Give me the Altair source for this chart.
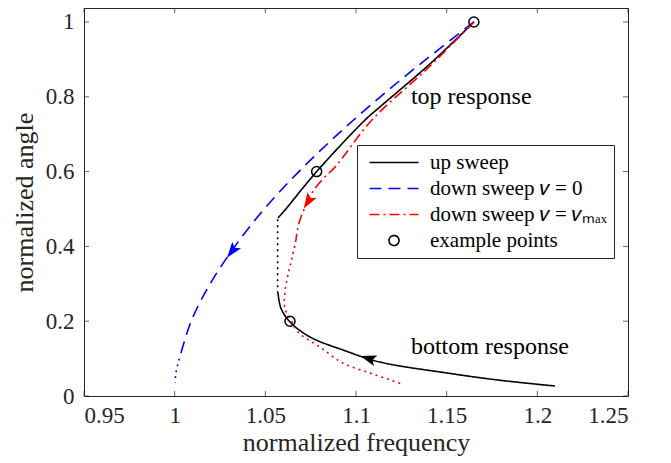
import altair as alt
import pandas as pd

SERIES = ["up sweep", "down sweep 𝑣 = 0", "down sweep 𝑣 = 𝑣ₘₐₓ", "example points"]
COLORS = ["#000000", "#0000ff", "#ff0000", "#000000"]
DASHES = [[1, 0], [12, 7], [10, 4, 2, 4], [1, 0]]
# legend symbols: a 49px line sample, and a circle sitting at the middle of it
LINE_SYM = "M-1,0 L8.8,0"
CIRC_SYM = "M4.9,0 A1,1 0 1,1 2.9,0 A1,1 0 1,1 4.9,0 Z"
CIRC_SHIFT = -19.5
SHAPES = [LINE_SYM, LINE_SYM, LINE_SYM, CIRC_SYM]

x_ticks = [0.95, 1.0, 1.05, 1.1, 1.15, 1.2, 1.25]
y_ticks = [0, 0.2, 0.4, 0.6, 0.8, 1.0]
X_DOMAIN = [0.95, 1.25]
Y_DOMAIN = [0, 1.0374]

# up sweep (black)
up_top_x = [1.0570, 1.0608, 1.0783, 1.1050, 1.1132, 1.1408, 1.1650]
up_top_y = [0.476, 0.497, 0.600, 0.738, 0.773, 0.888, 1.000]
up_jump_x = [1.0568, 1.0568]
up_jump_y = [0.275, 0.476]
up_bot_x = [1.2097, 1.1778, 1.1502, 1.1132, 1.0928, 1.0746, 1.0636, 1.0586, 1.0570]
up_bot_y = [0.0267, 0.043, 0.0615, 0.0909, 0.123, 0.158, 0.198, 0.235, 0.275]

# down sweep v = 0 (blue)
d0_x = [1.1650, 1.1386, 1.1134, 1.0900, 1.0685, 1.0494, 1.0332, 1.0196, 1.0091, 1.0026]
d0_y = [1.000, 0.900, 0.800, 0.700, 0.600, 0.500, 0.400, 0.300, 0.200, 0.100]
d0_tail_x = [1.0026, 1.0008, 1.0002]
d0_tail_y = [0.100, 0.065, 0.035]

# down sweep v = vmax (red)
dm_x = [1.1650, 1.1397, 1.1088, 1.0884, 1.0813, 1.0757, 1.0719, 1.0691, 1.0675, 1.0669]
dm_y = [1.000, 0.877, 0.738, 0.612, 0.578, 0.543, 0.505, 0.471, 0.439, 0.417]
dm_tail_x = [1.0669, 1.0647, 1.0625, 1.0608, 1.0608, 1.0647, 1.0680, 1.0801, 1.0928,
             1.1077, 1.1188, 1.1254]
dm_tail_y = [0.417, 0.369, 0.324, 0.278, 0.235, 0.198, 0.171, 0.131, 0.088,
             0.0615, 0.043, 0.032]

# example points
pts_x = [1.1650, 1.0783, 1.0636]
pts_y = [1.000, 0.600, 0.200]

# arrows (one per sweep)
arr_x = [1.1077, 1.0322, 1.0741]
arr_y = [0.099, 0.391, 0.524]
arr_angle = [288, 217, 212]

# annotations
ann_text = ["top response", "bottom response"]
ann_x = [1.1303, 1.1303]
ann_y = [0.80, 0.131]

rows = []
def add(series, seg, xs, ys):
    for i, (a, b) in enumerate(zip(xs, ys)):
        rows.append({"series": series, "seg": seg, "order": i, "x": a, "y": b})

add(SERIES[0], "top", up_top_x, up_top_y)
add(SERIES[0], "bot", up_bot_x, up_bot_y)
add(SERIES[1], "main", d0_x, d0_y)
add(SERIES[2], "main", dm_x, dm_y)
main_df = pd.DataFrame(rows)

rows = []
add(SERIES[0], "jump", up_jump_x, up_jump_y)
add(SERIES[1], "tail", d0_tail_x, d0_tail_y)
add(SERIES[2], "tail", dm_tail_x, dm_tail_y)
dot_df = pd.DataFrame(rows)

pts_df = pd.DataFrame({"series": SERIES[3], "x": pts_x, "y": pts_y})
ann_df = pd.DataFrame({"text": ann_text, "x": ann_x, "y": ann_y})

AX = "#262626"
FONT = "Liberation Serif"

xs = alt.Scale(domain=X_DOMAIN, nice=False, zero=False)
ys = alt.Scale(domain=Y_DOMAIN, nice=False, zero=False)

legend = alt.Legend(
    orient="none", legendX=273, legendY=137,
    strokeColor=AX, fillColor="white", padding=7,
    labelFont=FONT, labelFontSize=21, labelColor="black", labelLimit=400,
    labelOffset=45, rowPadding=4, symbolStrokeWidth=1.6, symbolSize=100,
    symbolFillColor="transparent",
)

color = alt.Color("series:N", scale=alt.Scale(domain=SERIES, range=COLORS),
                  legend=legend, title=None)

x_enc = alt.X("x:Q", scale=xs, title="normalized frequency",
              axis=alt.Axis(values=x_ticks, format="~g"))
y_enc = alt.Y("y:Q", scale=ys, title="normalized angle",
              axis=alt.Axis(values=y_ticks, format="~g"))

lines = alt.Chart(main_df).mark_line(strokeWidth=1.6, interpolate="catmull-rom").encode(
    x=x_enc, y=y_enc, color=color,
    strokeDash=alt.StrokeDash("series:N", scale=alt.Scale(domain=SERIES, range=DASHES),
                              legend=legend, title=None),
    detail="seg:N", order="order:Q",
)

dots = alt.Chart(dot_df).mark_line(strokeWidth=1.6, strokeDash=[2, 4],
                                   interpolate="catmull-rom").encode(
    x="x:Q", y="y:Q", color=color, detail="seg:N", order="order:Q",
)

points = alt.Chart(pts_df).mark_point(filled=False, size=100, strokeWidth=1.5, opacity=1,
                                      xOffset=CIRC_SHIFT).encode(
    x="x:Q", y="y:Q", color=color,
    shape=alt.Shape("series:N", scale=alt.Scale(domain=SERIES, range=SHAPES),
                    legend=legend, title=None),
)

ARROW = "M0,-1 L0.55,0.6 L0,0.25 L-0.55,0.6 Z"
arrow_layers = []
for i in range(3):
    adf = pd.DataFrame({"x": [arr_x[i]], "y": [arr_y[i]], "angle": [arr_angle[i]]})
    arrow_layers.append(
        alt.Chart(adf).mark_point(filled=True, size=400, opacity=1, strokeWidth=0,
                                  shape=ARROW, color=COLORS[i]).encode(
            x="x:Q", y="y:Q", angle=alt.Angle("angle:Q", scale=None),
        )
    )

texts = alt.Chart(ann_df).mark_text(align="left", baseline="middle", font=FONT,
                                    fontSize=24, color="black").encode(
    x="x:Q", y="y:Q", text="text:N",
)

tick_x = pd.DataFrame({"x": x_ticks})
tick_y = pd.DataFrame({"y": y_ticks})
tb = alt.Chart(tick_x).mark_tick(orient="vertical", size=5, thickness=1, color=AX, yOffset=-2.5).encode(
    x="x:Q", y=alt.datum(Y_DOMAIN[0]))
tt = alt.Chart(tick_x).mark_tick(orient="vertical", size=5, thickness=1, color=AX, yOffset=2.5).encode(
    x="x:Q", y=alt.datum(Y_DOMAIN[1]))
tl = alt.Chart(tick_y).mark_tick(orient="horizontal", size=5, thickness=1, color=AX, xOffset=2.5).encode(
    y="y:Q", x=alt.datum(X_DOMAIN[0]))
tr = alt.Chart(tick_y).mark_tick(orient="horizontal", size=5, thickness=1, color=AX, xOffset=-2.5).encode(
    y="y:Q", x=alt.datum(X_DOMAIN[1]))

chart = alt.layer(tb, tt, tl, tr, lines, dots, *arrow_layers, points, texts).properties(
    width=544, height=388,
    autosize=alt.AutoSizeParams(type="none"),
    padding={"left": 76, "top": 0, "right": 20, "bottom": 64},
).configure(font=FONT).configure_text(font=FONT).configure_view(
    stroke=AX, strokeWidth=1,
).configure_axis(
    grid=False, domain=False, ticks=False,
    labelFont=FONT, labelFontSize=23, labelColor=AX,
    titleFont=FONT, titleFontSize=26, titleColor=AX, titleFontWeight="normal",
).configure_axisX(
    labelPadding=8, titlePadding=2,
).configure_axisY(
    labelPadding=10, titlePadding=8,
)

chart.save("out.html", embed_options={"renderer": "svg", "actions": False})
